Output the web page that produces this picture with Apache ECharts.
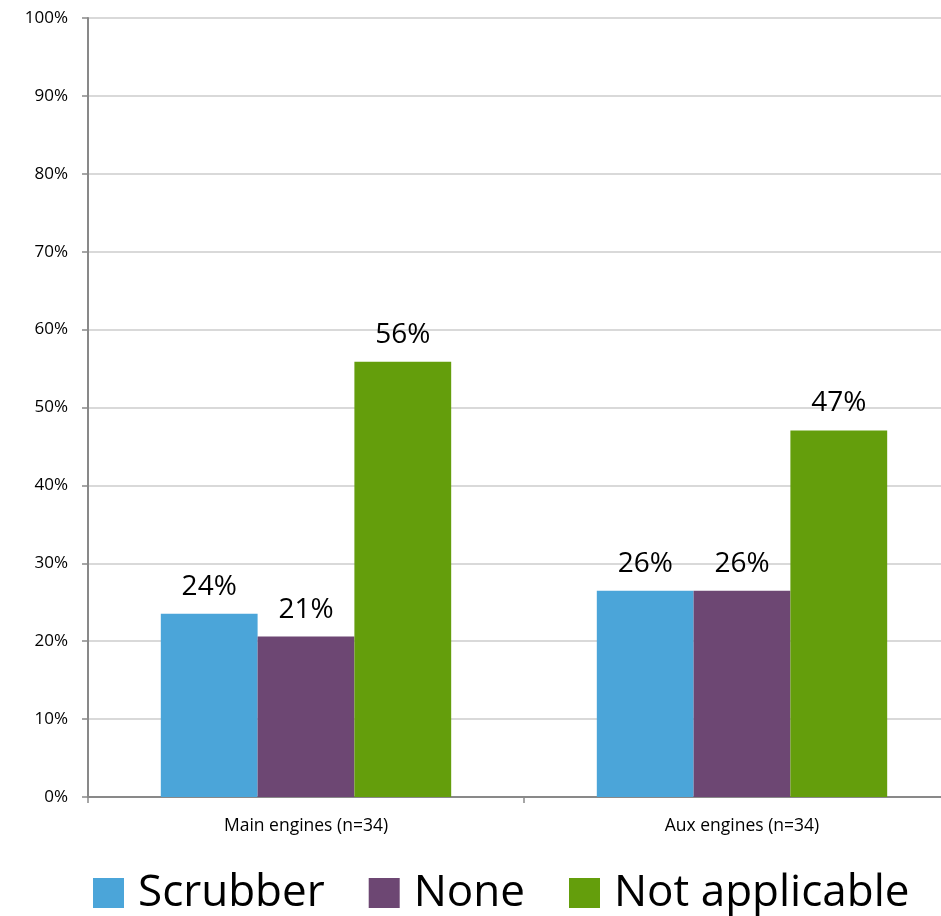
<!DOCTYPE html>
<html>
<head>
<meta charset="utf-8">
<script src="https://cdn.jsdelivr.net/npm/echarts@6/dist/echarts.min.js"></script>
<style>
  html, body { margin: 0; padding: 0; background: #fff; overflow: hidden; }
  /* canvas is a little wider than the window; the plot runs off the right edge */
  #chart { width: 960px; height: 916px; }
</style>
</head>
<body>
<div id="chart"></div>
<script>
// Engine categories (each sample n=34)
var categories = ['Main engines (n=34)', 'Aux engines (n=34)'];

// Share of vessels per abatement option, in percent
var scrubber = [23.53, 26.47];
var none = [20.59, 26.47];
var notApplicable = [55.88, 47.06];

var seriesNames = ['Scrubber', 'None', 'Not applicable'];
var seriesColors = ['#4BA5D9', '#6D4773', '#649E0C'];
var seriesValues = [scrubber, none, notApplicable];

var baseFont = '"Open Sans", "Noto Sans", sans-serif';

var chart = echarts.init(document.getElementById('chart'));

var series = seriesNames.map(function (name, i) {
  return {
    name: name,
    type: 'bar',
    data: seriesValues[i],
    barWidth: '22.2%',
    barGap: '0%',
    itemStyle: { color: seriesColors[i] },
    label: {
      show: true,
      position: 'top',
      distance: 13,
      color: '#000',
      fontFamily: baseFont,
      fontSize: 28,
      formatter: function (p) { return Math.round(p.value) + '%'; }
    }
  };
});

chart.setOption({
  animation: false,
  backgroundColor: '#fff',
  grid: { left: 88, right: 0, top: 18, bottom: 119, containLabel: false },
  legend: {
    data: seriesNames,
    bottom: -4,
    left: 88,
    itemWidth: 31,
    itemHeight: 30,
    itemGap: 44,
    icon: 'rect',
    textStyle: {
      fontFamily: baseFont,
      fontSize: 44,
      color: '#000',
      padding: [0, 0, 0, 9]
    }
  },
  xAxis: {
    type: 'category',
    data: categories,
    axisLine: { lineStyle: { color: '#898989', width: 2 } },
    axisTick: { show: true, length: 6, alignWithLabel: false, lineStyle: { color: '#898989', width: 1.5 } },
    axisLabel: { color: '#000', fontFamily: baseFont, fontSize: 17.5, margin: 20 }
  },
  yAxis: {
    type: 'value',
    min: 0,
    max: 100,
    interval: 10,
    axisLine: { show: true, lineStyle: { color: '#898989', width: 2 } },
    axisTick: { show: true, length: 6, lineStyle: { color: '#898989', width: 1.5 } },
    axisLabel: {
      color: '#000',
      fontFamily: baseFont,
      fontSize: 17,
      margin: 20,
      formatter: '{value}%'
    },
    splitLine: { show: true, lineStyle: { color: '#D9D9D9', width: 2 } }
  },
  series: series
});
</script>
</body>
</html>
